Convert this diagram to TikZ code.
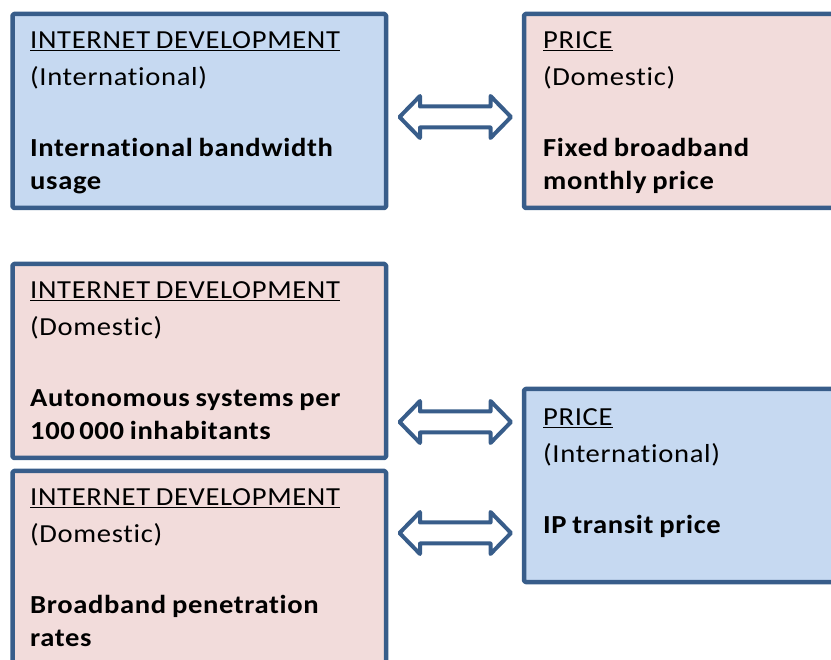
\documentclass[tikz,border=0pt]{standalone}
\usepackage{fontspec}
\setmainfont{Carlito}[FakeStretch=1.1, LetterSpace=2.5, WordSpace=0.8, Ligatures=NoCommon]
\definecolor{boxline}{HTML}{385D8A}
\definecolor{bluefill}{HTML}{C6D9F1}
\definecolor{pinkfill}{HTML}{F2DCDB}
\tikzset{
  x=1pt, y=-1pt,
  panel/.style={draw=boxline, line width=4.5pt, line join=round, rounded corners=1.5pt, inner sep=0pt, minimum width=373.5pt},
  bluepanel/.style={panel, fill=bluefill},
  pinkpanel/.style={panel, fill=pinkfill},
  paneltext/.style={anchor=north west, align=left, inner sep=0pt, font=\fontsize{26pt}{35pt}\selectfont, text=black},
  arrowline/.style={draw=boxline, fill=white, line width=4pt, line join=round},
  dblarrow/.pic={\draw[arrowline] (-55.75,0) -- (-35.25,-21) -- (-35.25,-10.5) -- (35.25,-10.5) -- (35.25,-21) -- (55.75,0) -- (35.25,21) -- (35.25,10.5) -- (-35.25,10.5) -- (-35.25,21) -- cycle;}
}
\newcommand{\ul}[1]{\underline{#1}}
\begin{document}
\begin{tikzpicture}
\useasboundingbox (0,0) rectangle (831,660);
\clip (0,0) rectangle (831,660);
% boxes
\node[bluepanel, minimum height=194pt] (b1) at (199.25,111) {};
\node[pinkpanel, minimum width=380pt, minimum height=194pt] (b2) at (714,111) {};
\node[pinkpanel, minimum height=194pt] (b3) at (199.25,361) {};
\node[pinkpanel, minimum height=230pt] (b4) at (199.25,586) {};
\node[bluepanel, minimum width=380pt, minimum height=193pt] (b5) at (714,485.5) {};
% texts
\node[paneltext] (t1) at (30,31.3) {\ul{INTERNET DEVELOPMENT}\\[2pt] (International)\\[36pt] \textbf{International bandwidth}\\[-2pt] \textbf{usage}};
\node[paneltext] (t2) at (543,31.3) {\ul{PRICE}\\[2pt] (Domestic)\\[36pt] \textbf{Fixed broadband}\\[-2pt] \textbf{monthly price}};
\node[paneltext] (t3) at (30,281.3) {\ul{INTERNET DEVELOPMENT}\\[2pt] (Domestic)\\[36pt] \textbf{Autonomous systems per}\\[-2pt] \textbf{100\,000 inhabitants}};
\node[paneltext] (t4) at (30,488.3) {\ul{INTERNET DEVELOPMENT}\\[2pt] (Domestic)\\[36pt] \textbf{Broadband penetration}\\[-2pt] \textbf{rates}};
\node[paneltext] (t5) at (543,408.3) {\ul{PRICE}\\[2pt] (International)\\[36pt] \textbf{IP transit price}};
% double arrows
\pic at (455.25,117) {dblarrow};
\pic at (455.25,422) {dblarrow};
\pic at (455.25,533) {dblarrow};
\end{tikzpicture}
\end{document}
